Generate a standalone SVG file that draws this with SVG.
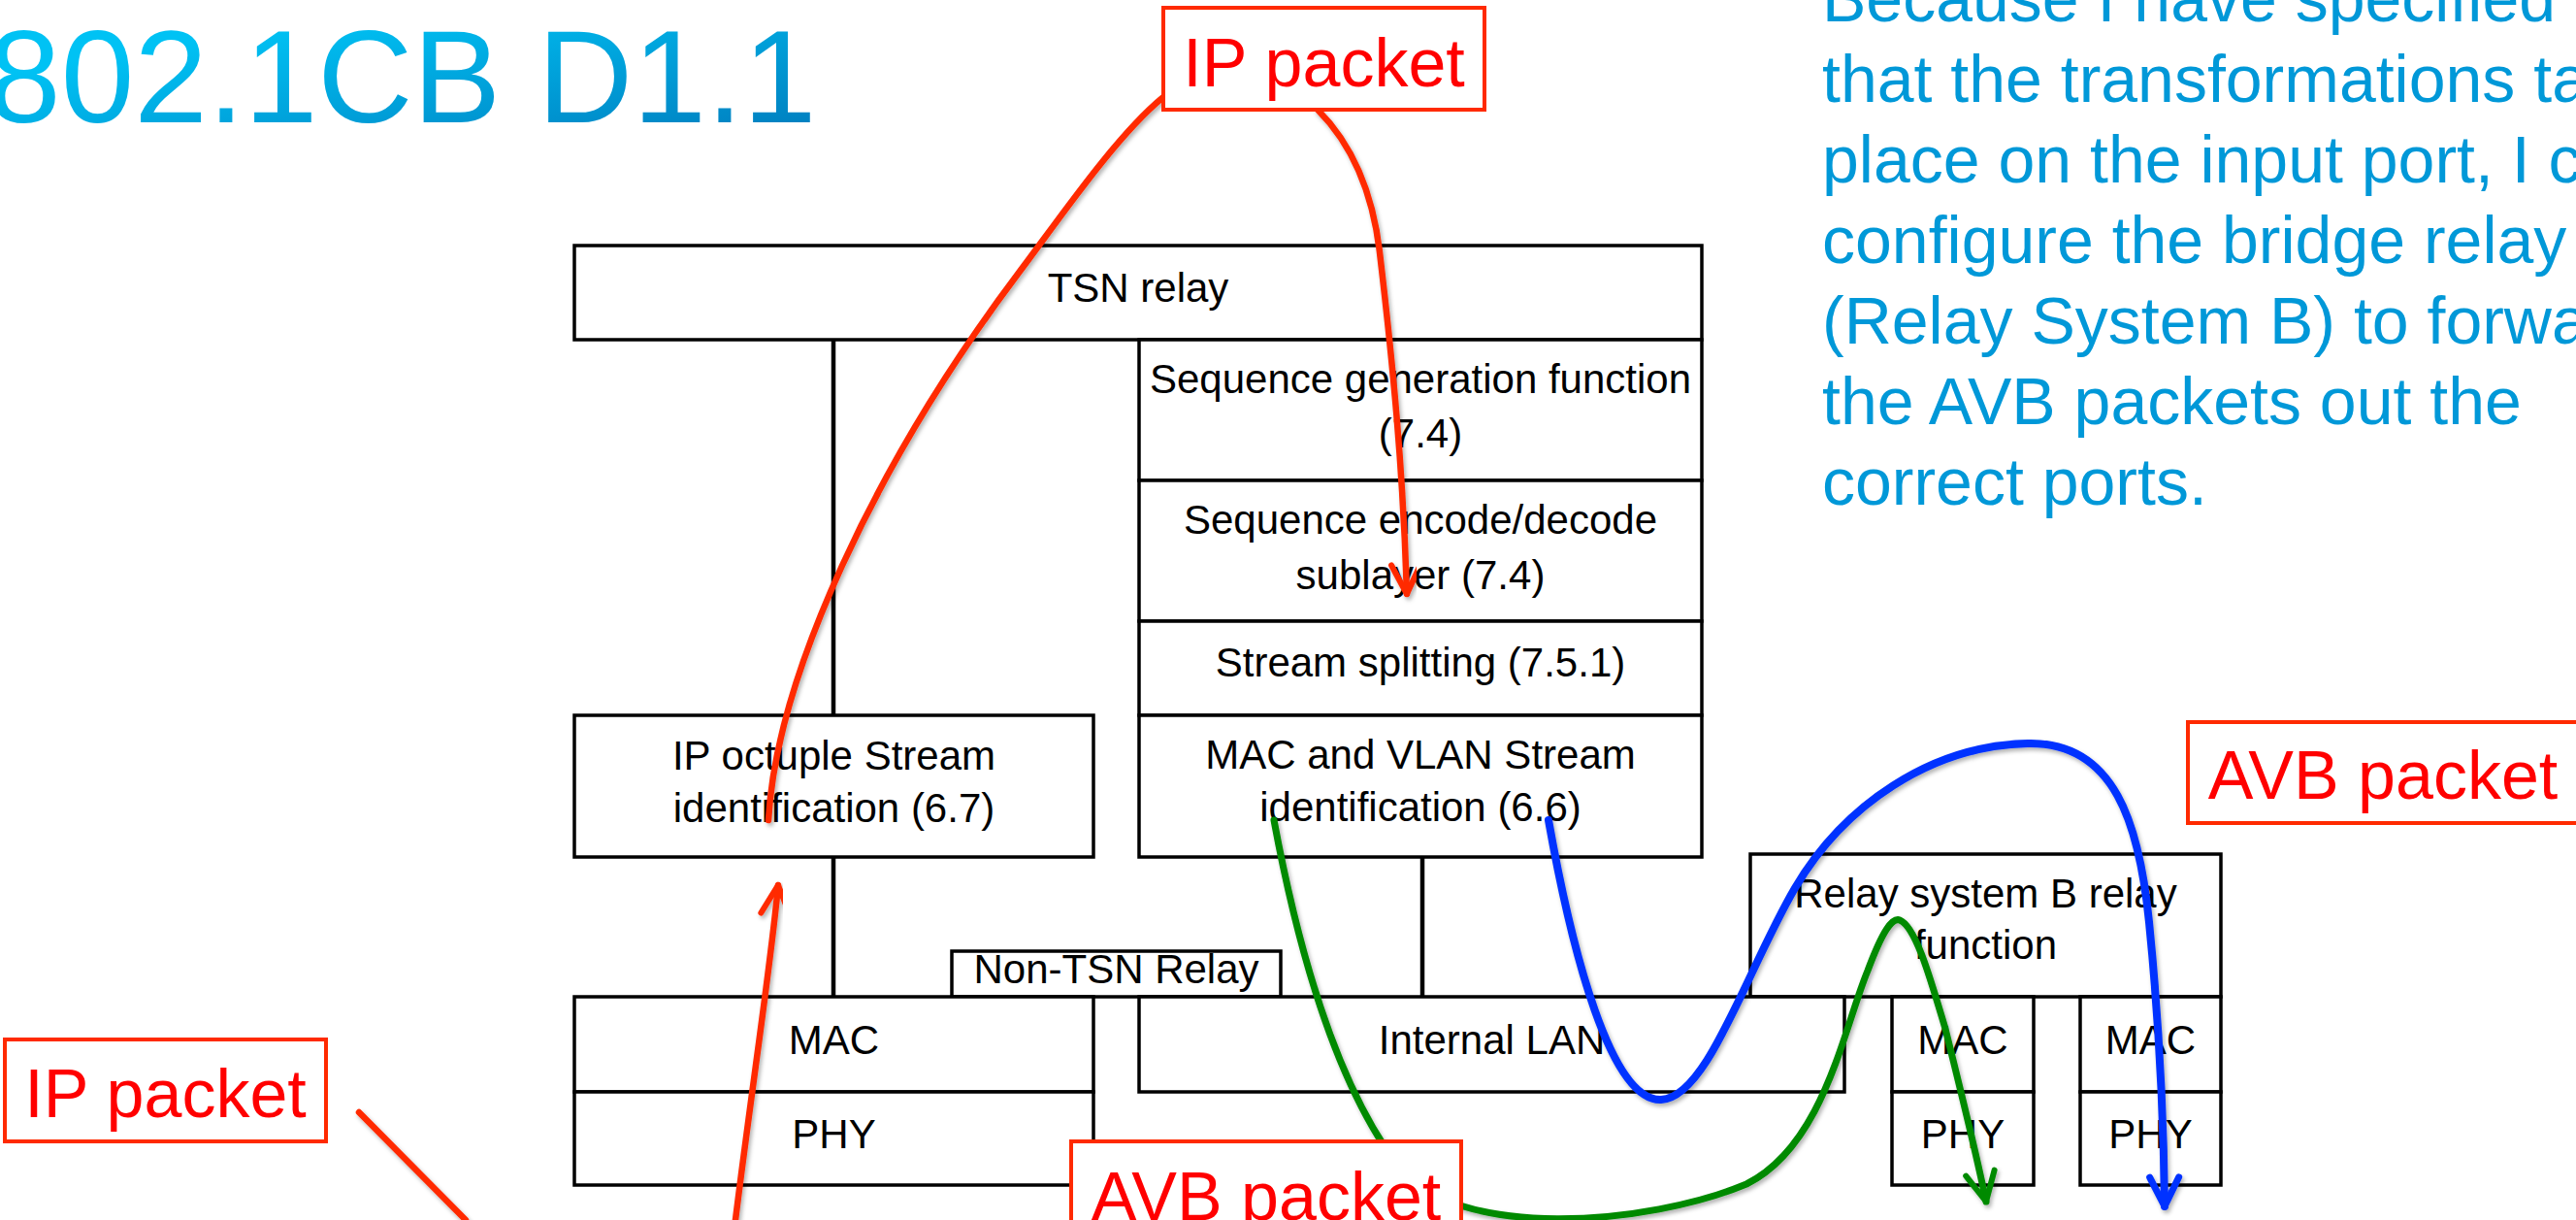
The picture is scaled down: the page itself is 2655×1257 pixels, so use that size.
<svg xmlns="http://www.w3.org/2000/svg" width="2655" height="1257" viewBox="0 0 2655 1257">
  <defs>
    <linearGradient id="titleFill" x1="0" y1="0" x2="1" y2="1">
      <stop offset="0.25" stop-color="#00C2F4"/>
      <stop offset="1" stop-color="#0078BA"/>
    </linearGradient>
    <filter id="soft" x="-10%" y="-10%" width="120%" height="120%">
      <feDropShadow dx="2" dy="3" stdDeviation="2" flood-color="#000" flood-opacity="0.3"/>
    </filter>
    <marker id="headRed" markerUnits="userSpaceOnUse" viewBox="-40 -22 48 44" markerWidth="48" markerHeight="44" refX="0" refY="0" orient="auto">
      <path d="M-30,-15 L0,0 L-30,15" fill="none" stroke="#FF2A00" stroke-width="6" stroke-linecap="round" stroke-linejoin="round"/>
    </marker>
    <marker id="headBlue" markerUnits="userSpaceOnUse" viewBox="-40 -22 48 44" markerWidth="48" markerHeight="44" refX="0" refY="0" orient="auto">
      <path d="M-30,-15 L0,0 L-30,15" fill="none" stroke="#0433FF" stroke-width="7" stroke-linecap="round" stroke-linejoin="round"/>
    </marker>
    <marker id="headGreen" markerUnits="userSpaceOnUse" viewBox="-40 -22 48 44" markerWidth="48" markerHeight="44" refX="0" refY="0" orient="auto">
      <path d="M-30,-15 L0,0 L-30,15" fill="none" stroke="#008A00" stroke-width="6" stroke-linecap="round" stroke-linejoin="round"/>
    </marker>
  </defs>
  <style>
    .box { fill: #FFFFFF; stroke: #000000; stroke-width: 3.5; }
    .stem { stroke: #000000; stroke-width: 4.5; fill: none; }
    .lbl { font-family: "Liberation Sans", Arial, sans-serif; font-size: 42px; fill: #000000; text-anchor: middle; }
    .tag { fill: #FFFFFF; stroke: #FF2A00; stroke-width: 4; }
    .tagtxt { font-family: "Liberation Sans", Arial, sans-serif; font-size: 70px; fill: #FF0000; text-anchor: middle; }
    .note { font-family: "Liberation Sans", Arial, sans-serif; font-size: 68px; fill: #0098D8; }
    .flow { fill: none; stroke-width: 6.5; stroke-linecap: round; filter: url(#soft); }
    .red { stroke: #FF2A00; }
    .blue { stroke: #0433FF; stroke-width: 8; }
    .green { stroke: #008A00; stroke-width: 7; }
  </style>

  <rect x="0" y="0" width="2655" height="1257" fill="#FFFFFF"/>

  <!-- heading -->
  <text id="title" x="-13" y="126" font-family="Liberation Sans, Arial, sans-serif" font-size="136" fill="url(#titleFill)">802.1CB D1.1</text>

  <!-- explanatory paragraph, running off the right edge -->
  <g id="note">
    <text class="note" x="1878" y="22">Because I have specified</text>
    <text class="note" x="1878" y="105">that the transformations ta</text>
    <text class="note" x="1878" y="188">place on the input port, I c</text>
    <text class="note" x="1878" y="271">configure the bridge relay</text>
    <text class="note" x="1878" y="354">(Relay System B) to forwa</text>
    <text class="note" x="1878" y="437">the AVB packets out the</text>
    <text class="note" x="1878" y="520">correct ports.</text>
  </g>

  <!-- vertical links between layers -->
  <g id="stems">
    <line class="stem" x1="859" y1="350" x2="859" y2="737"/>
    <line class="stem" x1="859" y1="883" x2="859" y2="1027"/>
    <line class="stem" x1="1466" y1="883" x2="1466" y2="1027"/>
  </g>

  <g id="tsn-relay">
    <rect class="box" x="592" y="253" width="1162" height="97"/>
    <text class="lbl" x="1173" y="311">TSN relay</text>
  </g>
  <g id="seq-gen">
    <rect class="box" x="1174" y="350" width="580" height="145"/>
    <text class="lbl" x="1464" y="405">Sequence generation function</text>
    <text class="lbl" x="1464" y="461">(7.4)</text>
  </g>
  <g id="seq-encode">
    <rect class="box" x="1174" y="495" width="580" height="145"/>
    <text class="lbl" x="1464" y="550">Sequence encode/decode</text>
    <text class="lbl" x="1464" y="607">sublayer (7.4)</text>
  </g>
  <g id="stream-split">
    <rect class="box" x="1174" y="640" width="580" height="97"/>
    <text class="lbl" x="1464" y="697">Stream splitting (7.5.1)</text>
  </g>
  <g id="mac-vlan-id">
    <rect class="box" x="1174" y="737" width="580" height="146"/>
    <text class="lbl" x="1464" y="792">MAC and VLAN Stream</text>
    <text class="lbl" x="1464" y="846">identification (6.6)</text>
  </g>
  <g id="ip-octuple-id">
    <rect class="box" x="592" y="737" width="535" height="146"/>
    <text class="lbl" x="859.5" y="793">IP octuple Stream</text>
    <text class="lbl" x="859.5" y="847">identification (6.7)</text>
  </g>
  <g id="relay-b">
    <rect class="box" x="1804" y="880" width="485" height="147"/>
    <text class="lbl" x="2046.5" y="935">Relay system B relay</text>
    <text class="lbl" x="2046.5" y="988">function</text>
  </g>
  <g id="non-tsn-relay">
    <rect class="box" x="981" y="980" width="339" height="47"/>
    <text class="lbl" x="1150.5" y="1013">Non-TSN Relay</text>
  </g>
  <g id="port-a">
    <rect class="box" x="592" y="1027" width="535" height="98"/>
    <text class="lbl" x="859.5" y="1086">MAC</text>
    <rect class="box" x="592" y="1125" width="535" height="96"/>
    <text class="lbl" x="859.5" y="1183">PHY</text>
  </g>
  <g id="internal-lan">
    <rect class="box" x="1174" y="1027" width="727" height="98"/>
    <text class="lbl" x="1537.5" y="1086">Internal LAN</text>
  </g>
  <g id="port-b1">
    <rect class="box" x="1950" y="1027" width="146" height="98"/>
    <text class="lbl" x="2023" y="1086">MAC</text>
    <rect class="box" x="1950" y="1125" width="146" height="96"/>
    <text class="lbl" x="2023" y="1183">PHY</text>
  </g>
  <g id="port-b2">
    <rect class="box" x="2144" y="1027" width="145" height="98"/>
    <text class="lbl" x="2216.5" y="1086">MAC</text>
    <rect class="box" x="2144" y="1125" width="145" height="96"/>
    <text class="lbl" x="2216.5" y="1183">PHY</text>
  </g>

  <!-- packet paths -->
  <g id="connectors">
    <path class="flow red" d="M370,1146 L480,1257"/>
    <path class="flow red" d="M758,1257 C775,1120 795,990 802,912" marker-end="url(#headRed)"/>
    <path class="flow red" d="M792,845 C800,700 900,480 1050,281 C1090,228 1150,140 1199,100"/>
    <path class="flow red" d="M1358,113 C1395,150 1415,200 1422,260 C1435,370 1446,480 1450,612" marker-end="url(#headRed)"/>
    <path class="flow green" d="M1313,845 C1340,990 1380,1120 1440,1200 C1500,1280 1700,1262 1800,1220 C1880,1180 1900,1060 1925,1000 C1940,960 1950,945 1958,948 C1975,955 1990,1010 2005,1060 C2020,1120 2035,1180 2047,1238" marker-end="url(#headGreen)"/>
    <path class="flow blue" d="M1596,845 C1620,980 1660,1135 1712,1133 C1760,1131 1800,1000 1850,915 C1900,830 1990,768 2090,766 C2180,764 2205,850 2215,950 C2225,1050 2230,1150 2231,1243" marker-end="url(#headBlue)"/>
  </g>

  <!-- packet labels -->
  <g id="ip-packet-top">
    <rect class="tag" x="1199" y="8" width="331" height="105"/>
    <text class="tagtxt" x="1364.5" y="89">IP packet</text>
  </g>
  <g id="ip-packet-left">
    <rect class="tag" x="5" y="1071" width="331" height="105"/>
    <text class="tagtxt" x="170.5" y="1151">IP packet</text>
  </g>
  <g id="avb-packet-right">
    <rect class="tag" x="2255" y="744" width="402" height="104"/>
    <text class="tagtxt" x="2456" y="823" font-size="68">AVB packet</text>
  </g>
  <g id="avb-packet-bottom">
    <rect class="tag" x="1104" y="1176" width="402" height="110"/>
    <text class="tagtxt" x="1305" y="1257" font-size="68">AVB packet</text>
  </g>
</svg>
